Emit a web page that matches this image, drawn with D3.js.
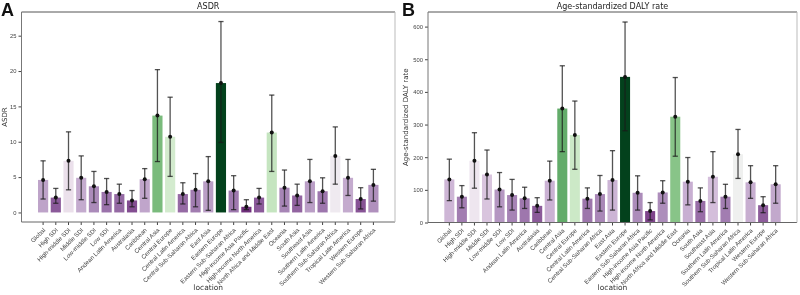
<!DOCTYPE html>
<html>
<head>
<meta charset="utf-8">
<script src="https://cdn.jsdelivr.net/npm/d3@7"></script>
<style>
	body { margin: 0; background: #fff; }
	svg { font-family: "DejaVu Sans", sans-serif; will-change: transform; }
	.tick text { fill: #444; }
	.tick line { stroke: #444; }
</style>
</head>
<body>
<div id="chart"></div>
<script>
// ---- data ----
const locations = [
	"Global", "High SDI", "High-middle SDI", "Middle SDI", "Low-middle SDI", "Low SDI",
	"Andean Latin America", "Australasia", "Caribbean", "Central Asia", "Central Europe",
	"Central Latin America", "Central Sub-Saharan Africa", "East Asia", "Eastern Europe",
	"Eastern Sub-Saharan Africa", "High-income Asia Pacific", "High-income North America",
	"North Africa and Middle East", "Oceania", "South Asia", "Southeast Asia",
	"Southern Latin America", "Southern Sub-Saharan Africa", "Tropical Latin America",
	"Western Europe", "Western Sub-Saharan Africa"
];

const asdrVal  = [4.6, 2.1, 7.3, 4.9, 3.7, 2.9, 2.6, 1.7, 4.7, 13.7, 10.7, 2.6, 3.2, 4.4, 18.3, 3.1, 0.8, 2.1, 11.3, 3.5, 2.4, 4.4, 3.0, 8.0, 4.9, 1.9, 3.9];
const asdrLow  = [1.9, 1.3, 3.2, 1.8, 1.4, 1.1, 1.3, 0.8, 2.0, 7.2, 5.1, 1.2, 0.8, 0.3, 9.9, 0.4, 0.4, 1.2, 5.8, 0.9, 1.0, 1.4, 1.3, 4.0, 2.4, 0.5, 1.6];
const asdrHigh = [7.3, 3.4, 11.4, 8.0, 5.8, 4.8, 4.0, 3.1, 6.2, 20.2, 16.3, 4.2, 5.5, 7.9, 27.0, 5.2, 1.8, 3.4, 16.6, 6.0, 4.0, 7.5, 4.9, 12.1, 7.5, 3.5, 6.1];

const dalyVal  = [132, 79, 189, 147, 101, 84, 74, 51, 128, 349, 268, 73, 87, 130, 446, 91, 35, 92, 324, 125, 66, 140, 79, 209, 123, 53, 117];
const dalyLow  = [67, 45, 105, 72, 48, 38, 43, 31, 69, 217, 163, 43, 35, 38, 281, 38, 8, 59, 203, 54, 33, 61, 43, 135, 74, 30, 59];
const dalyHigh = [194, 113, 275, 222, 153, 132, 108, 76, 188, 480, 372, 106, 144, 220, 614, 143, 61, 128, 444, 199, 106, 217, 117, 285, 174, 79, 174];

const asdrTicks = [0, 5, 10, 15, 20, 25];
const dalyTicks = [0, 100, 200, 300, 400, 500, 600];

const WIDTH = 800, HEIGHT = 295;

const svg = d3.select("#chart").append("svg")
	.attr("width", WIDTH)
	.attr("height", HEIGHT);

class BarPanel {
	constructor(opts) {
		const vis = this;
		Object.assign(vis, opts);
		vis.initVis();
	}

	initVis() {
		const vis = this;
		vis.g = svg.append("g");

		vis.rows = locations.map((loc, i) => ({
			loc: loc, val: vis.values[i], lo: vis.lows[i], hi: vis.highs[i]
		}));

		// scales
		vis.x = d3.scaleBand()
			.domain(locations)
			.range([vis.left, vis.right])
			.paddingInner(0.2)
			.paddingOuter(1.3);
		const maxHi = d3.max(vis.highs);
		const yMin = vis.zeroBottom ? 0 : -maxHi * 0.05;
		vis.y = d3.scaleLinear()
			.domain([yMin, maxHi * 1.05])
			.range([vis.bottom, vis.top]);

		// diverging PRGn colours keyed on bar height
		const maxV = d3.max(vis.values);
		const mid = maxV * 0.47;
		const tScale = d3.scaleLinear().domain([2 * mid - maxV, mid, maxV]).range([0, 0.5, 1]).clamp(true);
		vis.color = v => {
			const c = d3.hsl(d3.interpolatePRGn(tScale(v)));
			c.s *= 0.92;
			return c.formatHex();
		};

		// axes
		const yAxisCall = d3.axisLeft(vis.y)
			.tickValues(vis.ticks)
			.tickSize(3)
			.tickPadding(2);
		vis.g.append("g")
			.attr("transform", `translate(${vis.left}, 0)`)
			.call(yAxisCall)
			.call(g => g.select(".domain").remove())
			.selectAll("text")
			.attr("font-size", "5.8px");

		const xAxisCall = d3.axisBottom(vis.x)
			.tickSize(3)
			.tickPadding(2);
		vis.g.append("g")
			.attr("transform", `translate(0, ${vis.bottom})`)
			.call(xAxisCall)
			.call(g => g.select(".domain").remove())
			.selectAll("text")
			.attr("font-size", "6.1px")
			.attr("text-anchor", "end")
			.attr("dy", 0)
			.attr("transform", "translate(-1, 5) rotate(-45)");

		// bars
		vis.g.selectAll("rect.bar")
			.data(vis.rows)
			.enter().append("rect")
			.attr("class", "bar")
			.attr("x", d => vis.x(d.loc))
			.attr("width", vis.x.bandwidth())
			.attr("y", d => vis.y(d.val))
			.attr("height", d => vis.y(0) - vis.y(d.val))
			.attr("fill", d => vis.color(d.val));

		// error bars
		const cx = d => vis.x(d.loc) + vis.x.bandwidth() / 2;
		const capW = 2.6;
		const err = vis.g.selectAll("g.err")
			.data(vis.rows)
			.enter().append("g")
			.attr("class", "err")
			.attr("stroke", "rgba(25,25,25,0.75)")
			.attr("stroke-width", 1.3);
		err.append("line")
			.attr("x1", cx).attr("x2", cx)
			.attr("y1", d => vis.y(d.lo)).attr("y2", d => vis.y(d.hi));
		err.append("line")
			.attr("x1", d => cx(d) - capW).attr("x2", d => cx(d) + capW)
			.attr("y1", d => vis.y(d.hi)).attr("y2", d => vis.y(d.hi));
		err.append("line")
			.attr("x1", d => cx(d) - capW).attr("x2", d => cx(d) + capW)
			.attr("y1", d => vis.y(d.lo)).attr("y2", d => vis.y(d.lo));

		vis.g.selectAll("circle.mean")
			.data(vis.rows)
			.enter().append("circle")
			.attr("class", "mean")
			.attr("cx", cx)
			.attr("cy", d => vis.y(d.val))
			.attr("r", 2)
			.attr("fill", "#111");

		// spines
		const spine = (x1, y1, x2, y2, c) => vis.g.append("line")
			.attr("x1", x1).attr("y1", y1).attr("x2", x2).attr("y2", y2)
			.attr("stroke", c).attr("stroke-width", 1);
		spine(vis.left, vis.top, vis.right, vis.top, "#555");
		spine(vis.left, vis.top, vis.left, vis.bottom, "#777");
		spine(vis.left, vis.bottom, vis.right, vis.bottom, "#666");
		spine(vis.right, vis.top, vis.right, vis.bottom, "#bbb");

		// labels
		const midX = (vis.left + vis.right) / 2;
		vis.g.append("text")
			.attr("x", midX)
			.attr("y", 9)
			.attr("font-size", "8px")
			.attr("fill", "#222")
			.attr("text-anchor", "middle")
			.text(vis.title);
		vis.g.append("text")
			.attr("x", midX)
			.attr("y", 290)
			.attr("font-size", "7.5px")
			.attr("fill", "#333")
			.attr("text-anchor", "middle")
			.text("location");
		vis.g.append("text")
			.attr("transform", `translate(${vis.left - vis.yLabelOffset}, ${(vis.top + vis.bottom) / 2}) rotate(-90)`)
			.attr("font-size", "7px")
			.attr("fill", "#333")
			.attr("text-anchor", "middle")
			.text(vis.yLabel);
		vis.g.append("text")
			.attr("x", vis.letterX)
			.attr("y", 16)
			.attr("font-size", "18px")
			.attr("font-weight", "bold")
			.attr("font-family", "Liberation Sans, Arial, sans-serif")
			.attr("fill", "#111")
			.text(vis.letter);
	}
}

new BarPanel({
	letter: "A", letterX: 1, title: "ASDR", yLabel: "ASDR", yLabelOffset: 15,
	values: asdrVal, lows: asdrLow, highs: asdrHigh, ticks: asdrTicks,
	left: 21.5, right: 395, top: 12, bottom: 222, zeroBottom: false
});

new BarPanel({
	letter: "B", letterX: 402, title: "Age-standardized DALY rate", yLabel: "Age-standardized DALY rate", yLabelOffset: 20,
	values: dalyVal, lows: dalyLow, highs: dalyHigh, ticks: dalyTicks,
	left: 428, right: 797, top: 12, bottom: 222.5, zeroBottom: true
});
</script>
</body>
</html>
